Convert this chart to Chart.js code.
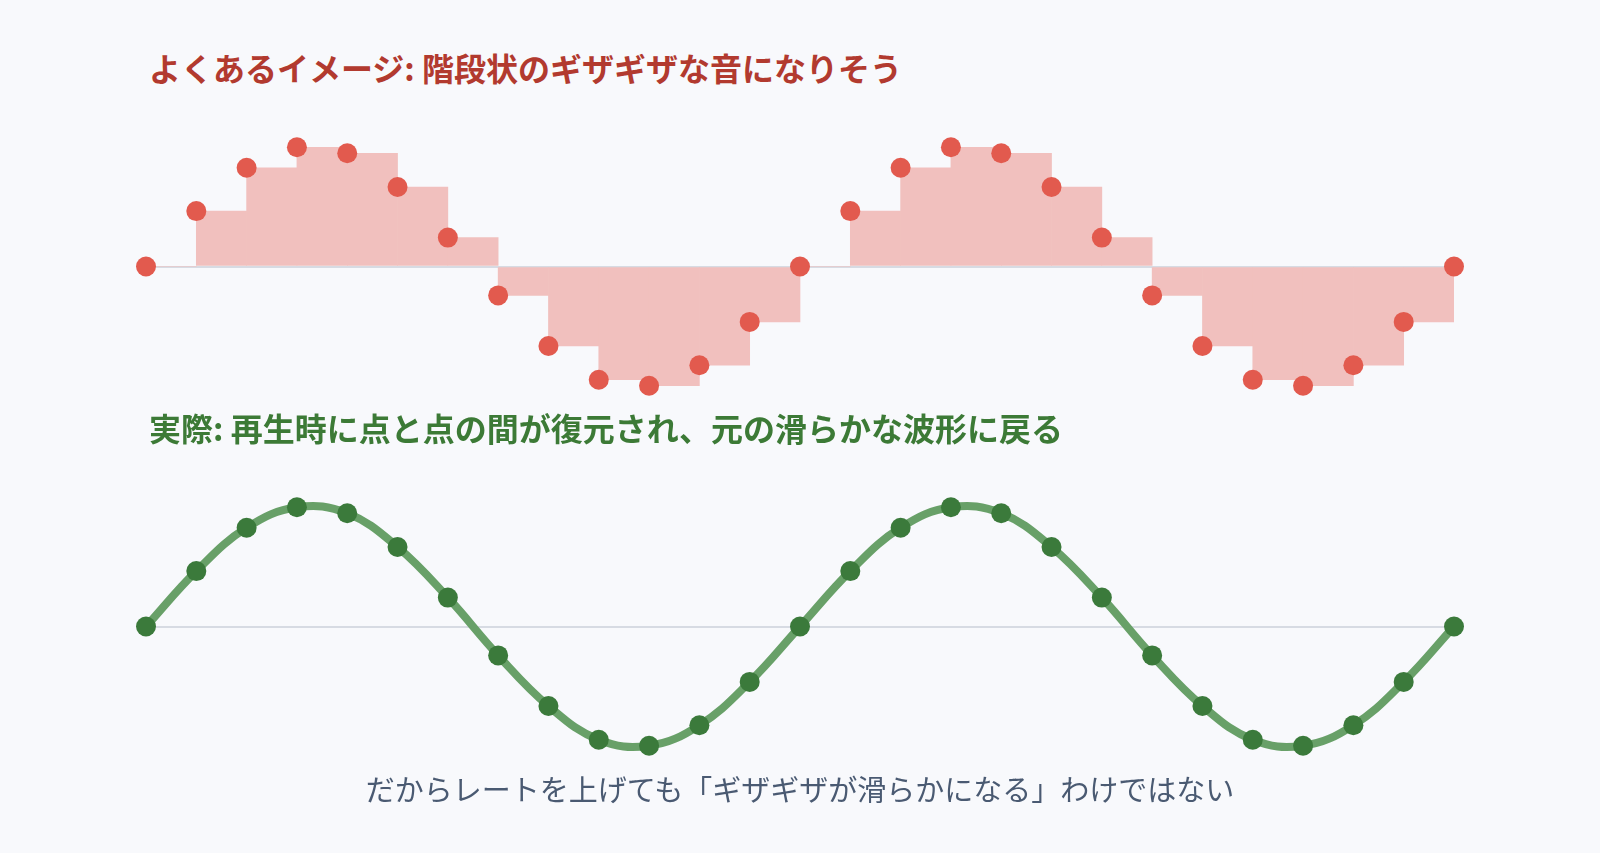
<!DOCTYPE html>
<html lang="ja">
<head>
<meta charset="utf-8">
<title>サンプリングと復元</title>
<script src="https://cdn.jsdelivr.net/npm/chart.js@4.4.1/dist/chart.umd.min.js"></script>
<style>
  html, body { margin: 0; padding: 0; background: #f8f9fc; }
  body {
    width: 1600px; height: 853px; position: relative; overflow: hidden;
    font-family: "Noto Sans CJK JP", "Noto Sans", sans-serif;
  }
  .title { position: absolute; left: 149px; font-size: 32px; font-weight: 700; line-height: 1; white-space: nowrap; }
  #t1 { top: 51px; color: #b23a2f; }
  #t2 { top: 411px; color: #3c7a36; }
  .wrap { position: absolute; left: 116px; width: 1368px; height: 325px; }
  #w1 { top: 104px; }
  #w2 { top: 464px; }
  #caption {
    position: absolute; left: 0; width: 1600px; top: 774px;
    text-align: center; font-size: 29px; line-height: 1; color: #4a5a72; white-space: nowrap;
  }
</style>
</head>
<body>
<div class="title" id="t1">よくあるイメージ: 階段状のギザギザな音になりそう</div>
<div class="wrap" id="w1"><canvas id="stepChart"></canvas></div>
<div class="title" id="t2">実際: 再生時に点と点の間が復元され、元の滑らかな波形に戻る</div>
<div class="wrap" id="w2"><canvas id="smoothChart"></canvas></div>
<div id="caption">だからレートを上げても「ギザギザが滑らかになる」わけではない</div>
<script>
// sample values (two cycles, 13 samples per cycle)
const sampleValues = [
  0, 0.46, 0.82, 0.99, 0.94, 0.66, 0.24, -0.24, -0.66, -0.94, -0.99, -0.82, -0.46,
  0, 0.46, 0.82, 0.99, 0.94, 0.66, 0.24, -0.24, -0.66, -0.94, -0.99, -0.82, -0.46,
  0
];
const yRange = [-1.1, 1.1];

const samplePoints = sampleValues.map((v, i) => ({ x: i, y: v }));
// zero-order hold: each sample is held until the next one
const heldSteps = sampleValues.slice(0, -1).map((v, i) => ({ x: i + 0.5, y: v }));

Chart.defaults.animation = false;
Chart.defaults.events = [];
Chart.defaults.plugins.legend.display = false;
Chart.defaults.plugins.tooltip.enabled = false;

function axes() {
  return {
    x: { type: 'linear', min: 0, max: sampleValues.length - 1, offset: false, display: false },
    y: {
      type: 'linear', min: yRange[0], max: yRange[1], beginAtZero: false,
      afterFit: s => { s.width = 0; },
      afterBuildTicks: s => { s.ticks = [{ value: 0 }]; },
      ticks: { display: false },
      border: { display: false },
      grid: { color: '#d7dbe3', lineWidth: 2, drawTicks: false }
    }
  };
}

/* ---------- top: stair-step image ---------- */
new Chart(document.getElementById('stepChart'), {
  type: 'bar',
  data: {
    datasets: [
      {
        type: 'scatter',
        data: samplePoints,
        backgroundColor: '#e25a4e',
        pointRadius: 10,
        borderWidth: 0,
        clip: false,
        order: 0
      },
      {
        type: 'bar',
        data: heldSteps,
        backgroundColor: '#f1c0be',
        borderWidth: 0,
        barPercentage: 1,
        categoryPercentage: 1,
        order: 1
      }
    ]
  },
  options: {
    responsive: true,
    maintainAspectRatio: false,
    layout: { padding: 30 },
    scales: axes()
  }
});

/* ---------- bottom: reconstructed smooth wave ---------- */
new Chart(document.getElementById('smoothChart'), {
  type: 'line',
  data: {
    datasets: [{
      data: samplePoints,
      borderColor: '#68a068',
      borderWidth: 8,
      tension: 0.4,
      pointRadius: 10,
      pointBackgroundColor: '#3b7a3b',
      pointBorderWidth: 0,
      clip: false
    }]
  },
  options: {
    responsive: true,
    maintainAspectRatio: false,
    layout: { padding: 30 },
    scales: axes()
  }
});
</script>
</body>
</html>
